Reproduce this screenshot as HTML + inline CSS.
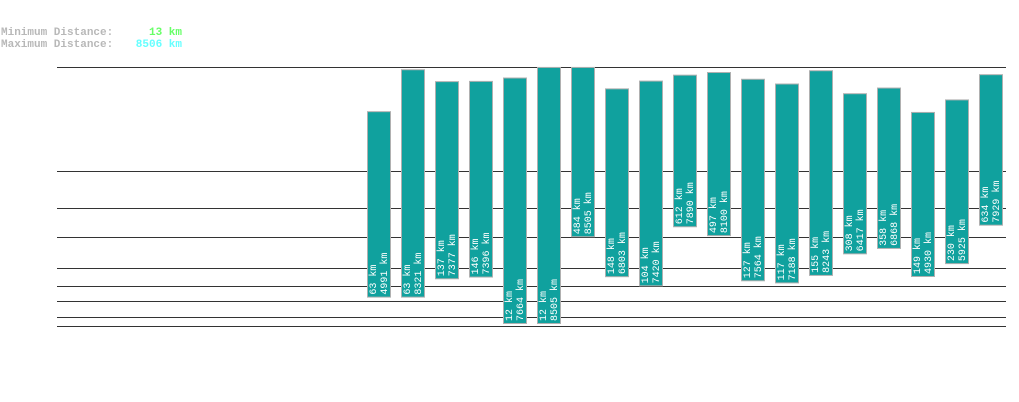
<!DOCTYPE html>
<html><head><meta charset="utf-8"><style>
html,body{margin:0;padding:0;background:#fff;width:1019px;height:402px;overflow:hidden}
svg{display:block}
</style></head><body>
<svg id="chart" width="1019" height="402" xmlns="http://www.w3.org/2000/svg" font-family="Liberation Mono, DejaVu Sans Mono, monospace">
<g font-size="11" font-weight="bold">
<text x="1" y="35" fill="#b8b8b8">Minimum Distance:</text>
<text x="182" y="35" fill="#66ff66" text-anchor="end">13 km</text>
<text x="1" y="47" fill="#b8b8b8">Maximum Distance:</text>
<text x="182" y="47" fill="#66ffff" text-anchor="end">8506 km</text>
</g>
<g id="grid"></g>
<g id="bars"></g>
</svg>
<script>
const minDist = [63,63,137,146,12,12,484,148,104,612,497,127,117,155,308,358,149,230,634];
const maxDist = [4991,8321,7377,7396,7664,8505,8505,6803,7420,7890,8100,7564,7188,8243,6417,6868,4930,5925,7929];
const gridY = [67,171,208,237,268,286,301,317,326];
const NS = 'http://www.w3.org/2000/svg';
function yTop(v){ return 174 - 0.01259 * v; }
function yBottom(v){ return 358.7 - 15.6 * Math.cbrt(v); }
function xBar(i){ return 367 + i * 34; }
const grid = document.getElementById('grid');
gridY.forEach(function(y){
  const l = document.createElementNS(NS,'line');
  
  
  l.setAttribute('x1',57); l.setAttribute('x2',1006);
  l.setAttribute('y1',y+0.5); l.setAttribute('y2',y+0.5);
  l.setAttribute('stroke','#333'); l.setAttribute('stroke-width','1');
  grid.appendChild(l);
});
const bars = document.getElementById('bars');
minDist.forEach(function(mn,i){
  const mx = maxDist[i];
  const x = xBar(i), t = yTop(mx), b = yBottom(mn);
  const g = document.createElementNS(NS,'g');
  
  
  const r = document.createElementNS(NS,'rect');
  
  
  r.setAttribute('x',x+0.5); r.setAttribute('y',t+0.5);
  r.setAttribute('width',23); r.setAttribute('height',b-t);
  r.setAttribute('fill','#10a19e'); r.setAttribute('stroke','#b0b0b0');
  g.appendChild(r);
  [mn+' km', mx+' km'].forEach(function(s,k){
    const tx = document.createElementNS(NS,'text');
    
    
    const cx = x + 9 + k*11, cy = b - 2;
    tx.setAttribute('x',cx); tx.setAttribute('y',cy);
    tx.setAttribute('transform','rotate(-90 '+cx+' '+cy+')');
    tx.setAttribute('fill','#ffffff'); tx.setAttribute('font-size','10');
    tx.textContent = s;
    g.appendChild(tx);
  });
  bars.appendChild(g);
});
</script>
</body></html>
